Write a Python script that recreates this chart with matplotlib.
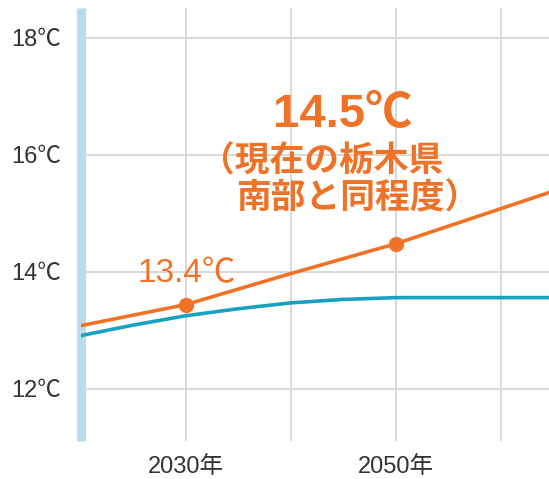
import matplotlib
matplotlib.use("Agg")
import matplotlib.pyplot as plt

# ── data ──
years_hi = [2020, 2030, 2040, 2050, 2060, 2065]
temp_hi = [13.08, 13.44, 13.97, 14.48, 15.08, 15.38]      # orange: high-emission case

years_lo = [2020, 2025, 2030, 2035, 2040, 2045, 2050, 2060, 2065]
temp_lo = [12.91, 13.09, 13.25, 13.37, 13.47, 13.53, 13.56, 13.56, 13.56]  # blue

marker_years = [2030, 2050]
marker_temps = [13.44, 14.48]

y_ticks = [12, 14, 16, 18]
y_labels = ["12℃", "14℃", "16℃", "18℃"]
x_ticks = [2030, 2040, 2050, 2060]
x_labels = ["2030年", "", "2050年", ""]

ORANGE = "#EF7226"
BLUE = "#16A2C0"
BAR = "#B7DDEA"
GRID = "#D8D8D8"
FONTS = ["Liberation Sans", "Noto Sans CJK JP", "DejaVu Sans"]
CJK = ["Noto Sans CJK JP", "DejaVu Sans"]

plt.rcParams["font.family"] = FONTS

fig = plt.figure(figsize=(5.49, 4.79), dpi=100)
ax = fig.add_axes([80.5 / 549, 38 / 479, 1 - 80.5 / 549, 433 / 479])

ax.set_xlim(2020, 2064.6)
ax.set_ylim(11.11, 18.51)

# grid
ax.set_xticks(x_ticks)
ax.set_xticklabels(x_labels)
ax.set_yticks(y_ticks)
ax.set_yticklabels(y_labels)
ax.grid(True, color=GRID, linewidth=1.4)
ax.set_axisbelow(True)
ax.tick_params(length=0, labelsize=17, colors="#333333")
ax.tick_params(axis="y", pad=14)
ax.tick_params(axis="x", pad=11)

for side in ["top", "right", "bottom"]:
    ax.spines[side].set_visible(False)
ax.spines["left"].set_color(BAR)
ax.spines["left"].set_linewidth(6.5)
ax.spines["left"].set_capstyle("butt")

# lines
ax.plot(years_lo, temp_lo, color=BLUE, linewidth=2.6, solid_capstyle="butt", zorder=3)
ax.plot(years_hi, temp_hi, color=ORANGE, linewidth=2.6, solid_capstyle="butt", zorder=4)
ax.plot(marker_years, marker_temps, "o", color=ORANGE, markersize=10, zorder=5)

# annotations
ax.text(2030.1, 13.83, "13.4℃", color=ORANGE, fontsize=24,
        ha="center", va="baseline")
ax.text(2045.0, 16.48, "14.5℃", color=ORANGE, fontsize=34, fontweight="bold",
        ha="center", va="baseline")
ax.text(2031.4, 15.71, "（現在の栃木県", color=ORANGE, fontsize=25, fontweight="bold",
        family=CJK, ha="left", va="baseline")
ax.text(2034.8, 15.08, "南部と同程度）", color=ORANGE, fontsize=25, fontweight="bold",
        family=CJK, ha="left", va="baseline")

fig.savefig("out.png", dpi=100)
